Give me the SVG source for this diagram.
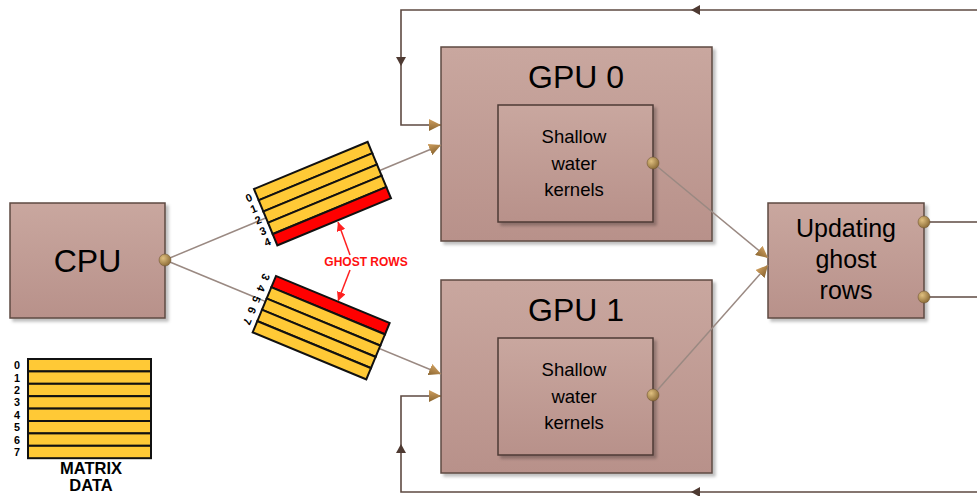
<svg xmlns="http://www.w3.org/2000/svg" width="977" height="496" viewBox="0 0 977 496">
<defs>
<linearGradient id="nodeG" x1="0" y1="0" x2="0" y2="1">
<stop offset="0" stop-color="#c9a79f"/>
<stop offset="1" stop-color="#b8918a"/>
</linearGradient>
<radialGradient id="dotG" cx="0.35" cy="0.35" r="0.7">
<stop offset="0" stop-color="#e0c080"/>
<stop offset="1" stop-color="#8a6a35"/>
</radialGradient>
<linearGradient id="goldG" x1="0" y1="0" x2="0" y2="1">
<stop offset="0" stop-color="#d0a060"/>
<stop offset="1" stop-color="#8a6530"/>
</linearGradient>
<filter id="sh" x="-10%" y="-10%" width="130%" height="130%">
<feDropShadow dx="3" dy="3" stdDeviation="1.5" flood-color="#000" flood-opacity="0.25"/>
</filter>
<marker id="arrG" viewBox="0 0 12 12" refX="12" refY="6" markerWidth="12" markerHeight="12" markerUnits="userSpaceOnUse" orient="auto">
<path d="M0,0 L12,6 L0,12 z" fill="url(#goldG)"/>
</marker>
<marker id="arrR" viewBox="0 0 10 10" refX="10" refY="5" markerWidth="9" markerHeight="9" markerUnits="userSpaceOnUse" orient="auto">
<path d="M0,0 L10,5 L0,10 z" fill="#ff2020"/>
</marker>
</defs>
<style>
.node{fill:url(#nodeG);stroke:#5e4a42;stroke-width:1.5;filter:url(#sh)}
.inner{fill:url(#nodeG);stroke:#4e3a34;stroke-width:1.5;filter:url(#sh)}
.t{font-family:"Liberation Sans",Arial,sans-serif;fill:#000;text-anchor:middle}
.big{font-size:32px}
.mid{font-size:25px}
.sm{font-size:18.5px}
.conn{fill:none;stroke:#9a8982;stroke-width:1.5}
.fb{fill:none;stroke:#5e4a42;stroke-width:1.6}
.dot{fill:url(#dotG);stroke:#6a5030;stroke-width:0.5}
.yel{fill:#ffc936;stroke:#111;stroke-width:2}
.red{fill:#ff0000;stroke:#111;stroke-width:2}
.dig{font-family:"Liberation Sans",Arial,sans-serif;font-weight:bold;font-size:11px;fill:#000;text-anchor:middle;dominant-baseline:central}
.mdig{font-size:10.8px}
.lab{font-family:"Liberation Sans",Arial,sans-serif;font-weight:bold;fill:#000;text-anchor:middle}
.fbarrow{fill:#4e3a32}
</style>

<g id="cpu">
<rect class="node" x="10" y="203" width="155" height="115"/>
<text class="t big" x="87.5" y="272">CPU</text>
</g>

<g id="gpu0">
<rect class="node" x="441" y="47" width="271" height="194"/>
<text class="t big" x="576" y="88">GPU 0</text>
<rect class="inner" x="498" y="105" width="155" height="117"/>
<text class="t sm" x="574" y="143">Shallow</text>
<text class="t sm" x="574" y="170">water</text>
<text class="t sm" x="574" y="196">kernels</text>
</g>

<g id="gpu1">
<rect class="node" x="441" y="280" width="271" height="193"/>
<text class="t big" x="576" y="321">GPU 1</text>
<rect class="inner" x="498" y="338" width="155" height="117"/>
<text class="t sm" x="574" y="376">Shallow</text>
<text class="t sm" x="574" y="403">water</text>
<text class="t sm" x="574" y="429">kernels</text>
</g>

<g id="updating">
<rect class="node" x="768" y="203" width="156" height="115"/>
<text class="t mid" x="846" y="237">Updating</text>
<text class="t mid" x="846" y="268">ghost</text>
<text class="t mid" x="846" y="299">rows</text>
</g>

<g id="connectors">
<line class="conn" x1="165" y1="260" x2="441" y2="145" marker-end="url(#arrG)"/>
<line class="conn" x1="165" y1="260" x2="441" y2="374" marker-end="url(#arrG)"/>
<line class="conn" x1="653" y1="163" x2="768" y2="258" marker-end="url(#arrG)"/>
<line class="conn" x1="653" y1="395" x2="768" y2="265" marker-end="url(#arrG)"/>
<path class="fb" d="M924,222 H977"/>
<path class="fb" d="M924,297 H977"/>
<path class="fb" d="M977,10 H401 V125 H441" marker-end="url(#arrG)"/>
<path class="fb" d="M977,492 H401 V396 H441" marker-end="url(#arrG)"/>
<path class="fbarrow" d="M691,10 L700,5 L700,15 z"/>
<path class="fbarrow" d="M401,66 L396,57 L406,57 z"/>
<path class="fbarrow" d="M401,444 L396,453 L406,453 z"/>
<path class="fbarrow" d="M691,492 L700,487 L700,497 z"/>
<circle class="dot" cx="165" cy="260" r="6"/>
<circle class="dot" cx="653" cy="163" r="6"/>
<circle class="dot" cx="653" cy="395" r="6"/>
<circle class="dot" cx="924" cy="222" r="6"/>
<circle class="dot" cx="924" cy="297" r="6"/>
</g>

<g id="block0" transform="translate(254,189) rotate(-22.5)">
<rect class="yel" x="0" y="0" width="123" height="12.2"/>
<rect class="yel" x="0" y="12.2" width="123" height="12.2"/>
<rect class="yel" x="0" y="24.4" width="123" height="12.2"/>
<rect class="yel" x="0" y="36.6" width="123" height="12.2"/>
<rect class="red" x="0" y="48.8" width="123" height="12.2"/>
<text class="dig" x="-8" y="6">0</text>
<text class="dig" x="-8" y="18">1</text>
<text class="dig" x="-8" y="30">2</text>
<text class="dig" x="-8" y="42">3</text>
<text class="dig" x="-8" y="54">4</text>
</g>

<g id="block1" transform="translate(276,276) rotate(22.5)">
<rect class="red" x="0" y="0" width="123" height="12.2"/>
<rect class="yel" x="0" y="12.2" width="123" height="12.2"/>
<rect class="yel" x="0" y="24.4" width="123" height="12.2"/>
<rect class="yel" x="0" y="36.6" width="123" height="12.2"/>
<rect class="yel" x="0" y="48.8" width="123" height="12.2"/>
<text class="dig" transform="translate(-9,5) rotate(90)">3</text>
<text class="dig" transform="translate(-9,17) rotate(90)">4</text>
<text class="dig" transform="translate(-9,29) rotate(90)">5</text>
<text class="dig" transform="translate(-9,41) rotate(90)">6</text>
<text class="dig" transform="translate(-9,53) rotate(90)">7</text>
</g>

<g id="ghost-label">
<line x1="350" y1="255" x2="338" y2="222" stroke="#ff2020" stroke-width="1.5" marker-end="url(#arrR)"/>
<line x1="350" y1="270" x2="338" y2="301" stroke="#ff2020" stroke-width="1.5" marker-end="url(#arrR)"/>
<text class="lab" x="366" y="266" font-size="12" style="fill:#ff1010">GHOST ROWS</text>
</g>

<g id="matrix">
<rect class="yel" x="28" y="359" width="123" height="12.4"/>
<rect class="yel" x="28" y="371.4" width="123" height="12.4"/>
<rect class="yel" x="28" y="383.8" width="123" height="12.4"/>
<rect class="yel" x="28" y="396.2" width="123" height="12.4"/>
<rect class="yel" x="28" y="408.6" width="123" height="12.4"/>
<rect class="yel" x="28" y="421" width="123" height="12.4"/>
<rect class="yel" x="28" y="433.4" width="123" height="12.4"/>
<rect class="yel" x="28" y="445.8" width="123" height="12.4"/>
<text class="dig mdig" x="17" y="365.2">0</text>
<text class="dig mdig" x="17" y="377.6">1</text>
<text class="dig mdig" x="17" y="390">2</text>
<text class="dig mdig" x="17" y="402.4">3</text>
<text class="dig mdig" x="17" y="414.8">4</text>
<text class="dig mdig" x="17" y="427.2">5</text>
<text class="dig mdig" x="17" y="439.6">6</text>
<text class="dig mdig" x="17" y="452">7</text>
<text class="lab" x="91" y="474" font-size="16.5">MATRIX</text>
<text class="lab" x="91" y="491" font-size="16.5">DATA</text>
</g>
</svg>
